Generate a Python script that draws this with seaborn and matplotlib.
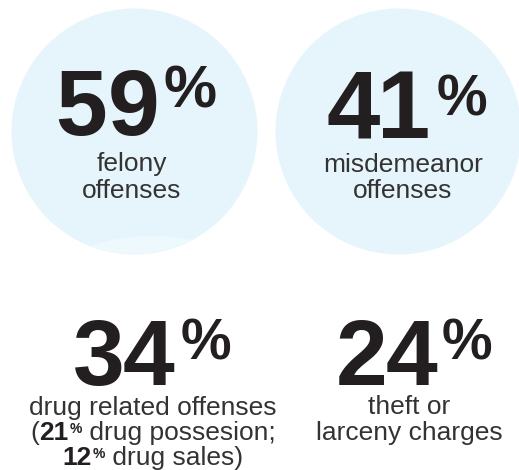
import matplotlib
matplotlib.use("Agg")
import matplotlib.pyplot as plt
from matplotlib.patches import Ellipse, Circle
import seaborn as sns
import pandas as pd

# ---------------- data ----------------
headline_values = [59, 41, 34, 24]
headline_labels = [
    ["felony", "offenses"],
    ["misdemeanor", "offenses"],
    ["drug related offenses"],
    ["theft or", "larceny charges"],
]
drug_breakdown_values = [21, 12]
drug_breakdown_labels = ["drug possesion;", "drug sales)"]

# ---------------- layout (pixels) ----------------
W, H, DPI = 519, 470, 100
circle_x = [134, 397.5]
circle_y = [131, 131]
circle_r = 123
num_center_x = [136, 407, 152, 414]
num_baseline = [135, 138, 385, 385]
num_size = [67, 69, 67, 67]
num_tracking = [0, -3, -2, -2]
pct_size = [43, 41, 41, 41]
pct_raise = [28, 23, 25, 25]
pct_gap = [4, 7, 7, 5]
label_center_x = [132, 403, 153, 409]
label_baselines = [[171, 198], [172, 198], [415, 440, 465], [414, 440]]
label_size = 19

NUM_COLOR = "#231f20"
TXT_COLOR = "#333333"
CIRCLE_COLOR = "#e6f5fb"
HILITE_COLOR = "#eef9fd"
FONT = "Liberation Sans"

sns.set_theme(style="white")
plt.rcParams["font.family"] = [FONT, "DejaVu Sans"]

fig = plt.figure(figsize=(W / DPI, H / DPI), dpi=DPI)
ax = fig.add_axes([0, 0, 1, 1])
ax.set_xlim(0, W)
ax.set_ylim(H, 0)
ax.axis("off")

# circles for the two top statistics
circ_df = pd.DataFrame({"x": circle_x, "y": circle_y,
                        "stat": [f"{v}%" for v in headline_values[:2]]})
diam_pt = 2 * circle_r * 72 / DPI
sns.scatterplot(data=circ_df, x="x", y="y", s=diam_pt ** 2, color=CIRCLE_COLOR,
                linewidth=0, legend=False, ax=ax, zorder=1)

# faint lighter wave at the bottom of the first circle
clip = Circle((circle_x[0], circle_y[0]), circle_r, transform=ax.transData)
hl = Ellipse((circle_x[0] + 18, circle_y[0] + 170), 230, 130,
             facecolor=HILITE_COLOR, edgecolor="none", zorder=1.5)
ax.add_patch(hl)
hl.set_clip_path(clip)

fig.canvas.draw()
renderer = fig.canvas.get_renderer()


def rich_line(xc, yb, parts):
    """parts: list of (text, size, weight, raise_px, gap_before_px, color)"""
    items = []
    for text, size, weight, rise, gap, color in parts:
        t = ax.text(0, yb - rise, text, fontsize=size, fontweight=weight,
                    ha="left", va="baseline", color=color, zorder=3)
        w = t.get_window_extent(renderer).width
        items.append((t, w, gap))
    total = sum(w + g for _, w, g in items)
    x = xc - total / 2
    for t, w, g in items:
        x += g
        t.set_x(x)
        x += w


# big numbers with superscript percent signs
for i, v in enumerate(headline_values):
    digits = str(v)
    parts = [(d, num_size[i], "bold", 0, (num_tracking[i] if k else 0), NUM_COLOR)
             for k, d in enumerate(digits)]
    parts.append(("%", pct_size[i], "bold", pct_raise[i], pct_gap[i], NUM_COLOR))
    rich_line(num_center_x[i], num_baseline[i], parts)

# labels
for i, lines in enumerate(headline_labels):
    for j, line in enumerate(lines):
        rich_line(label_center_x[i], label_baselines[i][j], [
            (line, label_size, "normal", 0, 0, TXT_COLOR)])

# drug breakdown lines
rich_line(label_center_x[2], label_baselines[2][1], [
    ("(", label_size, "normal", 0, 0, TXT_COLOR),
    (str(drug_breakdown_values[0]), label_size, "bold", 0, 0, NUM_COLOR),
    ("%", 10, "bold", 7, 1, NUM_COLOR),
    (" " + drug_breakdown_labels[0], label_size, "normal", 0, 0, TXT_COLOR),
])
rich_line(label_center_x[2], label_baselines[2][2], [
    (str(drug_breakdown_values[1]), label_size, "bold", 0, 0, NUM_COLOR),
    ("%", 10, "bold", 7, 1, NUM_COLOR),
    (" " + drug_breakdown_labels[1], label_size, "normal", 0, 0, TXT_COLOR),
])

fig.savefig("out.png", dpi=DPI, facecolor="white")
